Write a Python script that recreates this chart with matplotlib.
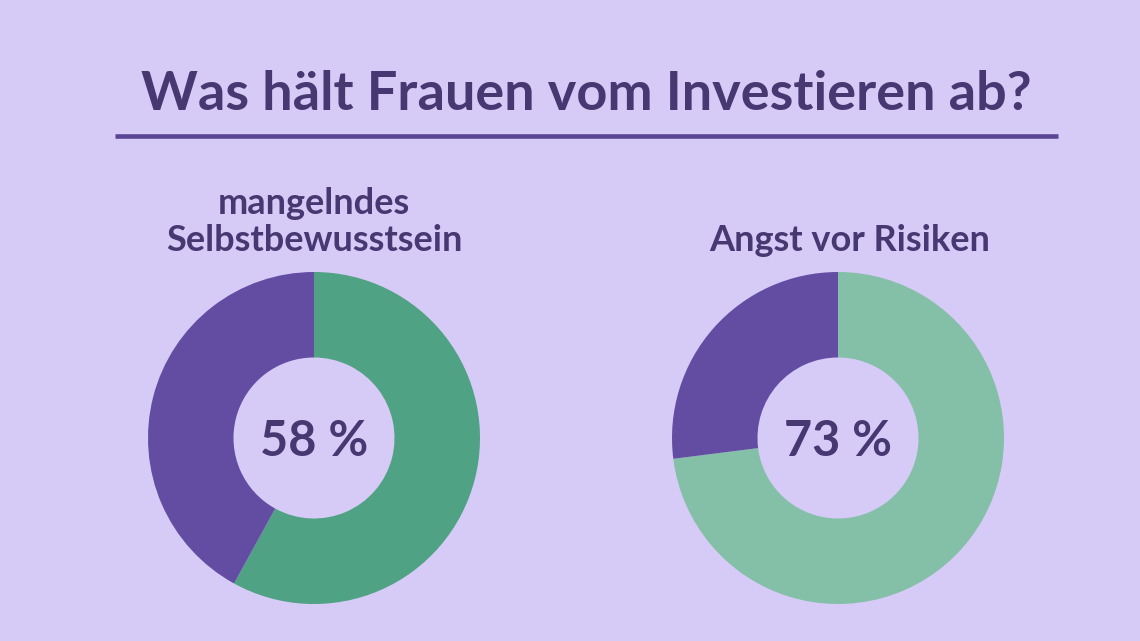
import matplotlib.pyplot as plt

# --- Data ---
labels = ["mangelndes\nSelbstbewusstsein", "Angst vor Risiken"]
shares = [58, 73]                     # percent (green part)
green_cols = ["#4fa283", "#84bfa8"]
purple = "#634da3"
bg = "#d6caf6"
txt = "#483872"

plt.rcParams["font.family"] = ["Lato", "DejaVu Sans"]

W, H = 1140, 641
fig = plt.figure(figsize=(W / 100, H / 100), dpi=100)
fig.patch.set_facecolor(bg)

# title + rule
fig.text(586.5 / W, 1 - 110 / H, "Was hält Frauen vom Investieren ab?",
         ha="center", va="baseline", fontsize=39, fontweight="bold", color=txt)
fig.add_artist(plt.Line2D([115 / W, 1058 / W], [1 - 136.5 / H, 1 - 136.5 / H],
                          color="#5a4595", lw=3.3, solid_capstyle="butt"))

centers = [(314, 438), (838, 438)]
label_x = [314, 850]
R = 166
pad = 1.05

for (cx, cy), lx, lab, val, gc in zip(centers, label_x, labels, shares, green_cols):
    side = 2 * R * pad
    ax = fig.add_axes([(cx - side / 2) / W, (H - cy - side / 2) / H, side / W, side / H])
    ax.pie([val, 100 - val], colors=[gc, purple], startangle=90, counterclock=False,
           radius=1, wedgeprops=dict(width=0.515, edgecolor="none"))
    ax.set_xlim(-pad, pad)
    ax.set_ylim(-pad, pad)
    ax.set_aspect("equal")
    ax.axis("off")
    ax.text(0, -0.02, f"{val} %", ha="center", va="center", fontsize=35,
            fontweight="bold", color=txt)
    fig.text(lx / W, 1 - 251 / H, lab, ha="center", va="baseline", fontsize=26,
             fontweight="bold", color=txt, linespacing=1.15)

fig.savefig("out.png", dpi=100, facecolor=bg)
